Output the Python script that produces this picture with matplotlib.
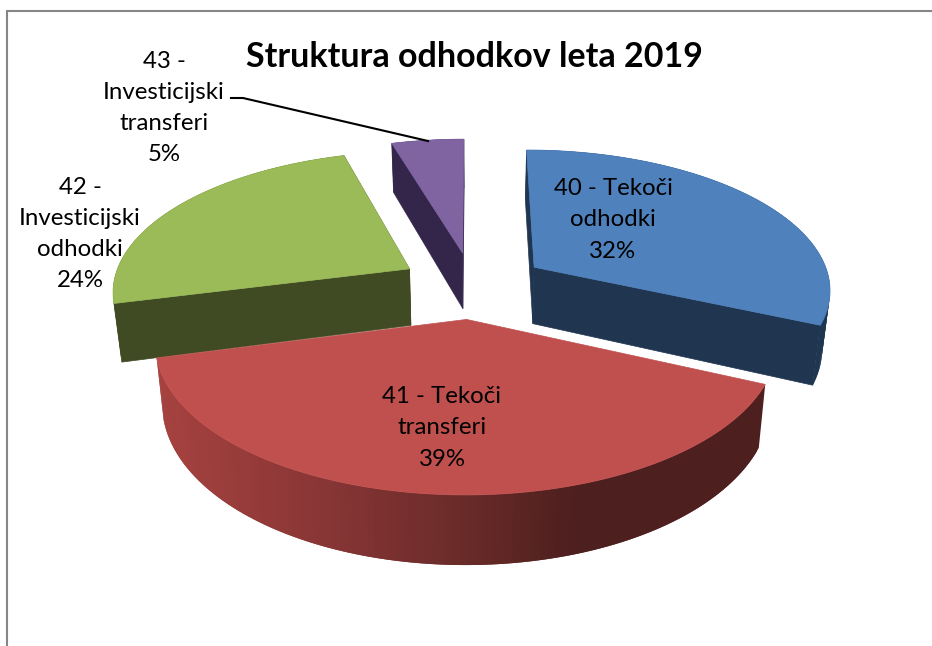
import numpy as np
import matplotlib
matplotlib.use("Agg")
import matplotlib.pyplot as plt
from matplotlib.collections import PolyCollection
from matplotlib.patches import Polygon

plt.rcParams['font.family'] = ['Lato', 'DejaVu Sans']

title = "Struktura odhodkov leta 2019"
values = [31.7, 39.3, 24.4, 4.6]
labels = ["40 - Tekoči\nodhodki\n32%",
          "41 - Tekoči\ntransferi\n39%",
          "42 -\nInvesticijski\nodhodki\n24%",
          "43 -\nInvesticijski\ntransferi\n5%"]
top_colors = ['#4f81bd', '#c0504d', '#9bbb59', '#8064a2']
side_colors = ['#1f3550', None, '#404a23', '#33264a']
label_pos = [(613, 220), (442, 428), (80, 234), (164, 108)]

# pie geometry in pixels, fitted by hand
cx, cy = 473, 285
rx, ry = 297, 139
persp = 0.145
explode_x = 0.25
explode_y = 0.24
height = 57.5
taper = 0.022


def project(u, v, z=0.0):
    s = 1 / (1 - persp * v)
    return np.column_stack([cx + rx * u * s * (1 - taper * z), cy + ry * v * s + height * z * s])


def red_side_color(x):
    r = np.interp(x, [160, 300, 470, 570], [165, 140, 103, 77])
    g = np.interp(x, [160, 300, 470, 570], [66, 55, 42, 31])
    b = np.interp(x, [160, 300, 470, 570], [63, 55, 40, 30])
    return (r / 255, g / 255, b / 255)


fig = plt.figure(figsize=(9.32, 6.46), dpi=100)
ax = fig.add_axes([0, 0, 1, 1])
ax.set_xlim(0, 932)
ax.set_ylim(646, 0)
ax.axis('off')

ax.plot([932, 7, 7], [11, 11, 646], color='#868686', lw=1.5, solid_joinstyle='miter')

edges = np.cumsum([0] + values) / sum(values) * 2 * np.pi
for i in [3, 2, 0, 1]:  # back to front
    t0, t1 = edges[i], edges[i + 1]
    mid = (t0 + t1) / 2
    ou, ov = explode_x * np.sin(mid), -explode_y * np.cos(mid)
    t = np.linspace(t0, t1, 120)
    u = np.r_[ou, ou + np.sin(t)]
    v = np.r_[ov, ov - np.cos(t)]

    # rim, every quad overlaps the next one so no seams show
    quads = []
    quad_colors = []
    for k in range(1, len(u) - 1):
        a = project(u[k:k + 3], v[k:k + 3], 0)
        b = project(u[k:k + 3], v[k:k + 3], 1)
        quads.append(np.vstack([a, b[::-1]]))
        if side_colors[i] is None:
            quad_colors.append(red_side_color(a[:, 0].mean()))
        else:
            quad_colors.append(side_colors[i])
    ax.add_collection(PolyCollection(quads, facecolors=quad_colors, edgecolors='none', linewidths=0))

    # radial walls
    if side_colors[i] is not None:
        for k in [1, len(u) - 1]:
            a = project(u[[0, k]], v[[0, k]], 0)
            b = project(u[[0, k]], v[[0, k]], 1)
            ax.add_patch(Polygon(np.vstack([a, b[::-1]]), fc=side_colors[i], ec=side_colors[i], lw=0.5))

    ax.add_patch(Polygon(project(u, v, 0), fc=top_colors[i], ec=top_colors[i], lw=0.5))

ax.plot([231, 243, 428], [98, 98, 141], color='black', lw=1.5)

for text, pos in zip(labels, label_pos):
    ax.text(pos[0], pos[1], text, ha='center', va='center', fontsize=17.3, linespacing=1.6, color='black')

ax.text(474, 57, title, ha='center', va='center', fontsize=24.5, fontweight='bold', color='black')

fig.savefig("out.png", dpi=100)
